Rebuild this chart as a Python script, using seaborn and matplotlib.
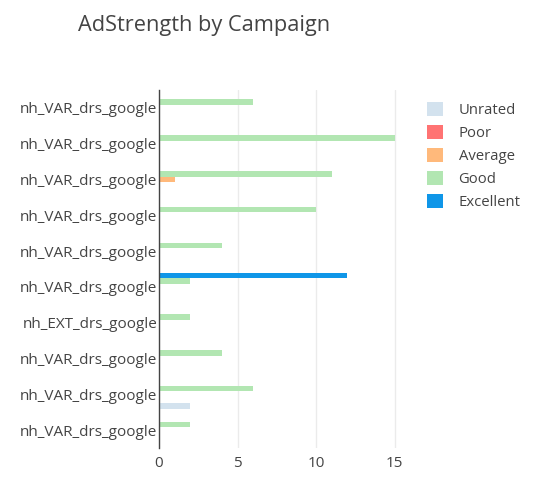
import matplotlib
matplotlib.use("Agg")
import matplotlib.pyplot as plt
from matplotlib.patches import Patch
import pandas as pd
import seaborn as sns

# campaigns listed top to bottom as they appear in the chart
campaigns = [
    "nh_VAR_drs_google", "nh_VAR_drs_google", "nh_VAR_drs_google",
    "nh_VAR_drs_google", "nh_VAR_drs_google", "nh_VAR_drs_google",
    "nh_EXT_drs_google", "nh_VAR_drs_google", "nh_VAR_drs_google",
    "nh_VAR_drs_google",
]
strengths = ["Unrated", "Poor", "Average", "Good", "Excellent"]
unrated = [0, 0, 0, 0, 0, 0, 0, 0, 2, 0]
poor = [0, 0, 0, 0, 0, 0, 0, 0, 0, 0]
average = [0, 0, 1, 0, 0, 0, 0, 0, 0, 0]
good = [6, 15, 11, 10, 4, 2, 2, 4, 6, 2]
excellent = [0, 0, 0, 0, 0, 12, 0, 0, 0, 0]
colors = {
    "Unrated": "#d3e2ee",
    "Poor": "#ff7373",
    "Average": "#ffb97b",
    "Good": "#b2e6b2",
    "Excellent": "#0f96e8",
}

# campaign names repeat, so bars are placed by row id and labelled afterwards
ids = [f"c{i}" for i in range(len(campaigns))]
rows = []
for name, vals in zip(strengths, [unrated, poor, average, good, excellent]):
    for cid, v in zip(ids, vals):
        rows.append({"campaign": cid, "strength": name, "count": v})
df = pd.DataFrame(rows)

sns.set_style("white")
plt.rcParams["font.family"] = ["Open Sans", "DejaVu Sans"]

fig = plt.figure(figsize=(5.51, 4.83), dpi=100)
ax = fig.add_axes([159 / 551, 1 - 448 / 483, 248 / 551, 358 / 483])

# plotly stacks the first trace at the bottom of each group
sns.barplot(data=df, x="count", y="campaign", hue="strength",
            order=ids, hue_order=strengths[::-1], palette=colors,
            saturation=1, orient="h", width=0.8, linewidth=0,
            legend=False, ax=ax)

ax.set_xlim(0, 15.79)
ax.set_xticks([0, 5, 10, 15])
ax.set_yticks(range(len(ids)))
ax.set_yticklabels(campaigns)
ax.set_xlabel("")
ax.set_ylabel("")
ax.grid(axis="x", color="#ebebeb", linewidth=1)
ax.set_axisbelow(True)
for side in ["top", "right", "bottom"]:
    ax.spines[side].set_visible(False)
ax.spines["left"].set_color("#444444")
ax.spines["left"].set_linewidth(1)
ax.tick_params(axis="both", length=0, labelcolor="#444444", labelsize=11)
ax.tick_params(axis="y", pad=1)
ax.tick_params(axis="x", pad=6)

fig.text(78 / 551, 1 - 25 / 483, "AdStrength by Campaign", fontsize=15.7,
         color="#444444", va="center", ha="left")

handles = [Patch(facecolor=colors[s], edgecolor="none", label=s) for s in strengths]
fig.legend(handles=handles, loc="upper left", bbox_to_anchor=(414 / 551, 1 - 89 / 483),
           frameon=False, fontsize=10.7, labelcolor="#444444",
           handlelength=1.05, handleheight=1.05, handletextpad=1.05, labelspacing=0.47)

fig.savefig("out.png", dpi=100)
